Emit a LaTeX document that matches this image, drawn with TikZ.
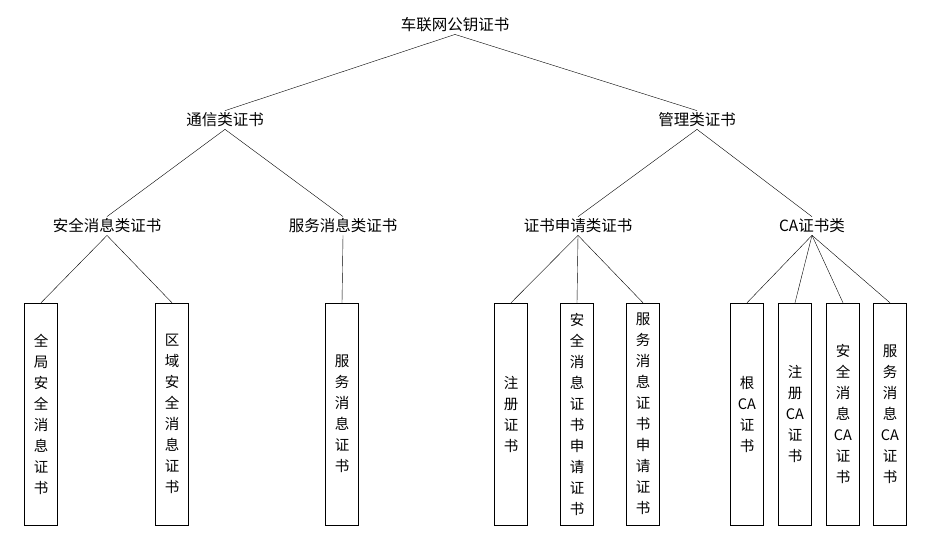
\documentclass[tikz,border=0pt]{standalone}
\usepackage{fontspec}
\setmainfont{Noto Sans CJK SC}
\usetikzlibrary{positioning}
\begin{document}
\begin{tikzpicture}[x=1pt,y=-1pt,
	lbl/.style={font=\fontsize{15.5}{20}\selectfont, inner sep=2pt},
	cert/.style={draw, font=\fontsize{14.5}{21}\selectfont, align=center, minimum width=33pt, minimum height=222pt, inner sep=1pt, text width=30pt}]
	\useasboundingbox (0,0) rectangle (934,537);
	% levels
	\node[lbl] (root) at (455,25) {车联网公钥证书};
	\node[lbl] (comm) at (225,120) {通信类证书};
	\node[lbl] (mgmt) at (697,120) {管理类证书};
	\node[lbl] (secmsg) at (107,226) {安全消息类证书};
	\node[lbl] (svcmsg) at (343,226) {服务消息类证书};
	\node[lbl] (apply) at (578,226) {证书申请类证书};
	\node[lbl] (ca) at (812,226) {CA证书类};
	% leaves
	\node[cert] (global) at (41,414) {全\\局\\安\\全\\消\\息\\证\\书};
	\node[cert] (region) at (172,414) {区\\域\\安\\全\\消\\息\\证\\书};
	\node[cert] (svc) at (342,414) {服\\务\\消\\息\\证\\书};
	\node[cert] (reg) at (511,414) {注\\册\\证\\书};
	\node[cert] (secapp) at (577,414) {安\\全\\消\\息\\证\\书\\申\\请\\证\\书};
	\node[cert] (svcapp) at (643,414) {服\\务\\消\\息\\证\\书\\申\\请\\证\\书};
	\node[cert] (rootca) at (747,414) {根\\CA\\证\\书};
	\node[cert] (regca) at (795,414) {注\\册\\CA\\证\\书};
	\node[cert] (secca) at (843,414) {安\\全\\消\\息\\CA\\证\\书};
	\node[cert] (svcca) at (890,414) {服\\务\\消\\息\\CA\\证\\书};
	% connectors
	\foreach \a/\b in {root/comm, root/mgmt, comm/secmsg, comm/svcmsg, mgmt/apply, mgmt/ca,
		secmsg/global, secmsg/region, svcmsg/svc, apply/reg, apply/secapp, apply/svcapp,
		ca/rootca, ca/regca, ca/secca, ca/svcca}
		\draw (\a.south) -- (\b.north);
\end{tikzpicture}
\end{document}
